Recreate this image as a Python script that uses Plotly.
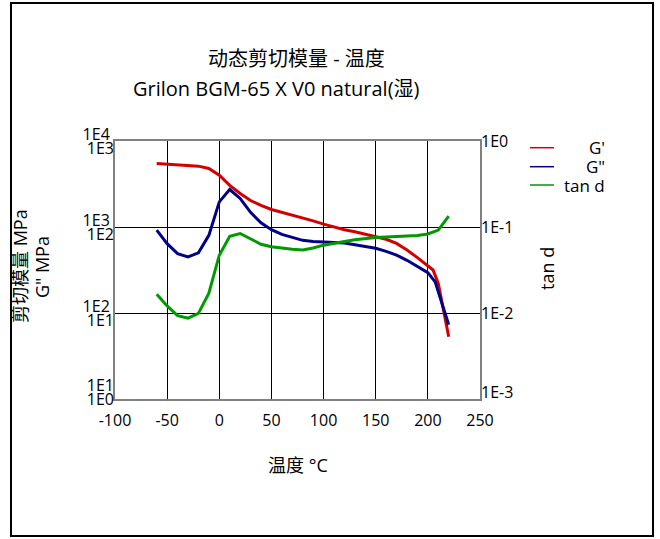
import plotly.graph_objects as go

# ---- data ----
temp_gp = [-60, -50, -40, -30, -20, -10, 0, 10, 20, 30, 40, 50, 60, 70, 80, 90, 100,
           110, 120, 130, 140, 150, 160, 170, 180, 190, 200, 205, 210, 215, 220]
g_prime = [5470, 5380, 5300, 5230, 5100, 4800, 4000, 3050, 2450, 2030, 1780, 1600, 1480,
           1380, 1290, 1180, 1080, 1000, 930, 880, 820, 780, 720, 645, 540, 440, 355,
           316, 221, 109, 53]

temp_gpp = [-60, -50, -40, -30, -20, -10, 0, 10, 20, 30, 40, 50, 60, 70, 80, 90, 100,
            110, 120, 130, 140, 150, 160, 170, 180, 190, 200, 207, 215, 220]
g_dprime = [92, 64, 49, 45, 50, 80, 196, 273, 215, 148, 112, 93, 82, 75, 70, 68, 67,
            66.5, 65, 62, 59.5, 56.5, 52, 47.2, 41, 34.5, 29.5, 23, 10.9, 7.3]

temp_tand = [-60, -50, -40, -30, -20, -10, 0, 10, 20, 30, 40, 50, 60, 70, 80, 90, 100,
             110, 120, 130, 140, 150, 160, 170, 180, 190, 200, 210, 220]
tan_d = [0.0165, 0.0121, 0.0093, 0.0087, 0.0099, 0.017, 0.047, 0.078, 0.084, 0.073,
         0.063, 0.059, 0.0565, 0.055, 0.054, 0.057, 0.0615, 0.065, 0.068, 0.071,
         0.0735, 0.0757, 0.0765, 0.077, 0.078, 0.0795, 0.083, 0.092, 0.134]

x_ticks = [-100, -50, 0, 50, 100, 150, 200, 250]
x_ticktext = ["-100", "-50", "0", "50", "100", "150", "200", "250"]
gp_tickvals = [10, 100, 1000, 10000]
gp_ticktext = ["1E1", "1E2", "1E3", "1E4"]
gpp_tickvals = [1, 10, 100, 1000]
gpp_ticktext = ["1E0", "1E1", "1E2", "1E3"]
tand_tickvals = [0.001, 0.01, 0.1, 1]
tand_ticktext = ["1E-3", "1E-2", "1E-1", "1E0"]

series_names = ["G'", 'G"', "tan d"]
colors = ["#d40000", "#000088", "#009900"]

FONT = "Open Sans, Noto Sans CJK SC, sans-serif"

fig = go.Figure()
fig.add_trace(go.Scatter(x=temp_gp, y=g_prime, name=series_names[0], mode="lines",
                         line=dict(color=colors[0], width=3), yaxis="y", showlegend=False))
fig.add_trace(go.Scatter(x=temp_gpp, y=g_dprime, name=series_names[1], mode="lines",
                         line=dict(color=colors[1], width=3), yaxis="y2", showlegend=False))
fig.add_trace(go.Scatter(x=temp_tand, y=tan_d, name=series_names[2], mode="lines",
                         line=dict(color=colors[2], width=3), yaxis="y3", showlegend=False))
# empty companion traces so the companion label axes are rendered
for ax in ["y4", "y5", "y6"]:
    fig.add_trace(go.Scatter(x=[None], y=[None], mode="lines", yaxis=ax,
                             showlegend=False, hoverinfo="skip"))

L, R, T, B = 115, 180, 141, 140
W, H = 660, 539
pw, ph = W - L - R, H - T - B


def px(xp):
    return (xp - L) / pw


def py(yp):
    return (H - B - yp) / ph


tick_font = dict(size=16, color="black")
# the lowest label of each vertical scale is lifted a little (as in the reference),
# so those are drawn by companion axes that share the same ranges
fig.update_layout(
    width=W, height=H,
    margin=dict(l=L, r=R, t=T, b=B, autoexpand=False),
    paper_bgcolor="white", plot_bgcolor="white",
    font=dict(family=FONT, size=16, color="black"),
    xaxis=dict(range=[-100, 250], tickvals=x_ticks, ticktext=x_ticktext, showgrid=True,
               gridcolor="black", gridwidth=1, showline=True, linecolor="#808080",
               linewidth=2, mirror=True, zeroline=False, ticks="", tickfont=tick_font,
               ticklabelstandoff=6),
    yaxis=dict(type="log", range=[1, 4], tickvals=gp_tickvals[1:], ticktext=gp_ticktext[1:],
               showgrid=True, gridcolor="black", gridwidth=1, showline=True,
               linecolor="#808080", linewidth=2, mirror=True, zeroline=False, ticks="",
               ticklabelshift=-7, tickfont=tick_font),
    yaxis4=dict(type="log", range=[1, 4], tickvals=gp_tickvals[:1], ticktext=gp_ticktext[:1],
                overlaying="y", side="left", showgrid=False, showline=False, zeroline=False,
                ticks="", ticklabelshift=-14, tickfont=tick_font),
    yaxis2=dict(type="log", range=[0, 3], tickvals=gpp_tickvals[1:], ticktext=gpp_ticktext[1:],
                overlaying="y", side="left", showgrid=False, showline=False, zeroline=False,
                ticks="", ticklabelshift=7, tickfont=tick_font),
    yaxis5=dict(type="log", range=[0, 3], tickvals=gpp_tickvals[:1], ticktext=gpp_ticktext[:1],
                overlaying="y", side="left", showgrid=False, showline=False, zeroline=False,
                ticks="", ticklabelshift=0, tickfont=tick_font),
    yaxis3=dict(type="log", range=[-3, 0], tickvals=tand_tickvals[1:],
                ticktext=tand_ticktext[1:], overlaying="y", side="right", showgrid=False,
                showline=False, zeroline=False, ticks="", tickfont=tick_font),
    yaxis6=dict(type="log", range=[-3, 0], tickvals=tand_tickvals[:1],
                ticktext=tand_ticktext[:1], overlaying="y", side="right", showgrid=False,
                showline=False, zeroline=False, ticks="", ticklabelshift=-7,
                tickfont=tick_font),
)

ann = []
ann.append(dict(text="动态剪切模量 - 温度", x=px(296.6), y=py(58), xref="paper", yref="paper",
                showarrow=False, xanchor="center", yanchor="middle", font=dict(size=20)))
ann.append(dict(text="Grilon BGM-65 X V0 natural(湿)", x=px(276.7), y=py(88), xref="paper",
                yref="paper", showarrow=False, xanchor="center", yanchor="middle",
                font=dict(size=20)))
ann.append(dict(text="温度 °C", x=0.5, y=py(465), xref="paper", yref="paper", showarrow=False,
                xanchor="center", yanchor="middle", font=dict(size=18)))
ann.append(dict(text="剪切模量 MPa", x=px(20), y=py(266), xref="paper", yref="paper",
                showarrow=False, textangle=-90, xanchor="center", yanchor="middle",
                font=dict(size=18)))
ann.append(dict(text='G" MPa', x=px(42), y=py(267), xref="paper", yref="paper",
                showarrow=False, textangle=-90, xanchor="center", yanchor="middle",
                font=dict(size=18)))
ann.append(dict(text="tan d", x=px(547), y=py(269), xref="paper", yref="paper",
                showarrow=False, textangle=-90, xanchor="center", yanchor="middle",
                font=dict(size=18)))

shapes = []
legend_y = [147.7, 166.7, 185]
for name, col, ly in zip(series_names, colors, legend_y):
    shapes.append(dict(type="line", xref="paper", yref="paper", x0=px(530), x1=px(554),
                       y0=py(ly), y1=py(ly), line=dict(color=col, width=1.5)))
    ann.append(dict(text=name, x=px(607), y=py(ly), xref="paper", yref="paper",
                    showarrow=False, xanchor="right", yanchor="middle", font=dict(size=17)))

shapes.append(dict(type="rect", xref="paper", yref="paper", x0=px(11), x1=px(653),
                   y0=py(536), y1=py(3), line=dict(color="black", width=2)))

fig.update_layout(annotations=ann, shapes=shapes)
fig.write_html("out.html", config={"displayModeBar": False},
               post_script="document.body.style.margin='0';"
                           "document.body.style.overflow='hidden';")
